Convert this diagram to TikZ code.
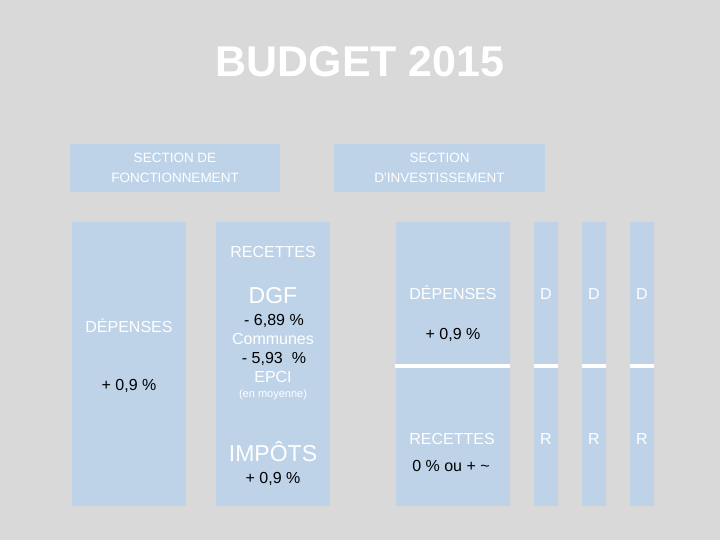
\documentclass[tikz,border=0pt]{standalone}
\usepackage{fontspec}
\setmainfont{Liberation Sans}
\definecolor{bggray}{HTML}{D9D9D9}
\definecolor{boxblue}{HTML}{BED3E8}
\begin{document}
\begin{tikzpicture}[x=1pt,y=-1pt,
  panel/.style={fill=boxblue,draw=none},
  wtxt/.style={text=white,anchor=base,inner sep=0pt,font=\fontsize{16}{19}\selectfont},
  btxt/.style={text=black,anchor=base,inner sep=0pt,font=\fontsize{16}{19}\selectfont},
  sectxt/.style={text=white,anchor=base,inner sep=0pt,font=\fontsize{13.5}{16}\selectfont},
  bigtxt/.style={text=white,anchor=base,inner sep=0pt,font=\fontsize{23}{27}\selectfont},
  divider/.style={white,line width=4.5pt}]
\fill[bggray] (0,0) rectangle (720,540);
\useasboundingbox (0,0) rectangle (720,540);
% title
\node[text=white,anchor=base,inner sep=0pt,font=\fontsize{43}{48}\selectfont\bfseries] (title) at (360,77) {BUDGET 2015};
% section headers
\fill[panel] (70,144) rectangle (280,192);
\fill[panel] (334,144) rectangle (545,192);
\node[sectxt] (sf1) at (175,163) {SECTION DE};
\node[sectxt] (sf2) at (175,183) {FONCTIONNEMENT};
\node[sectxt] (si1) at (439.5,163) {SECTION};
\node[sectxt] (si2) at (439.5,183) {D\textquotesingle INVESTISSEMENT};
% fonctionnement panels
\fill[panel] (72,222) rectangle (186,506);
\fill[panel] (216,222) rectangle (330,506);
\node[wtxt] (fdep) at (129,332) {DÉPENSES};
\node[btxt] (fdepp) at (129,390) {+ 0,9 \%};
\node[wtxt] (frec) at (273,258) {RECETTES};
\node[bigtxt] (dgf) at (273,303) {DGF};
\node[btxt] (dgf1) at (274,325) {- 6,89 \%};
\node[wtxt] (comm) at (273,344) {Communes};
\node[btxt] (dgf2) at (274,363) {- 5,93\ \ \%};
\node[wtxt] (epci) at (273,382) {EPCI};
\node[text=white,anchor=base,inner sep=0pt,font=\fontsize{11}{13}\selectfont] (moy) at (273,397) {(en moyenne)};
\node[bigtxt] (imp) at (273,461) {IMPÔTS};
\node[btxt] (impp) at (273,483) {+ 0,9 \%};
% investissement panels
\fill[panel] (396,222) rectangle (510,506);
\fill[panel] (534,222) rectangle (558,506);
\fill[panel] (582,222) rectangle (606,506);
\fill[panel] (630,222) rectangle (654,506);
\draw[divider] (395,366) -- (510,366);
\draw[divider] (534,366) -- (558,366);
\draw[divider] (582,366) -- (606,366);
\draw[divider] (630,366) -- (654,366);
\node[wtxt] (idep) at (453,299) {DÉPENSES};
\node[btxt] (idepp) at (453,339) {+ 0,9 \%};
\node[wtxt] (irec) at (452,444) {RECETTES};
\node[btxt] (irecp) at (451,471) {0 \% ou + \textasciitilde};
\node[wtxt] (d1) at (546,299) {D};
\node[wtxt] (d2) at (594,299) {D};
\node[wtxt] (d3) at (642,299) {D};
\node[wtxt] (r1) at (546,444) {R};
\node[wtxt] (r2) at (594,444) {R};
\node[wtxt] (r3) at (642,444) {R};
\end{tikzpicture}
\end{document}
